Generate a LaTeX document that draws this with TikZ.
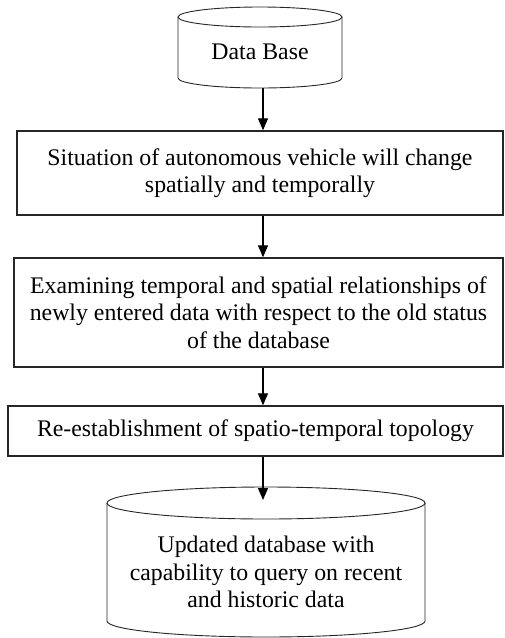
\documentclass[tikz,border=0pt]{standalone}
\usepackage{fontspec}
\setmainfont{Liberation Serif}
\usetikzlibrary{arrows.meta}

\begin{document}
\begin{tikzpicture}[x=1pt, y=1pt,
  font=\fontsize{23.8}{27.5}\selectfont,
  stepbox/.style={draw=black!85, line width=1.4pt, align=center, inner sep=0pt},
  dbline/.style={draw=black!85, line width=0.9pt},
  dbtext/.style={align=center, inner sep=0pt},
  flow/.style={line width=1.3pt, -{Triangle[length=12pt, width=10pt]}}]
  \useasboundingbox (0,0) rectangle (505,-638);

  % top data base
  \draw[dbline] (178,-17) -- (178,-78)
    arc[start angle=180, end angle=360, x radius=82, y radius=10] -- (342,-17);
  \draw[dbline] (260,-17) ellipse[x radius=82, y radius=10];
  \node[dbtext] (db) at (260,-52) {Data Base};
  \coordinate (dbbot) at (263,-88);

  % steps
  \node[stepbox, minimum width=486, minimum height=84] (sit) at (260,-173)
    {Situation of autonomous vehicle will change\\spatially and temporally};
  \node[stepbox, minimum width=489, minimum height=109] (exam) at (258.5,-312.5)
    {Examining temporal and spatial relationships of\\newly entered data with respect to the old status\\of the database};
  \node[stepbox, minimum width=495, minimum height=50] (topo) at (255.5,-431)
    {Re-establishment of spatio-temporal topology};

  % updated database
  \draw[dbline] (107,-503) -- (107,-621)
    arc[start angle=180, end angle=360, x radius=159, y radius=16] -- (425,-503);
  \draw[dbline] (266,-503) ellipse[x radius=159, y radius=16];
  \node[dbtext] (upd) at (266,-572)
    {Updated database with\\capability to query on recent\\and historic data};
  \coordinate (updtop) at (263,-500);

  % arrows
  \draw[flow] (dbbot) -- (dbbot |- sit.north);
  \draw[flow] (dbbot |- sit.south) -- (dbbot |- exam.north);
  \draw[flow] (dbbot |- exam.south) -- (dbbot |- topo.north);
  \draw[flow] (dbbot |- topo.south) -- (updtop);
\end{tikzpicture}
\end{document}
